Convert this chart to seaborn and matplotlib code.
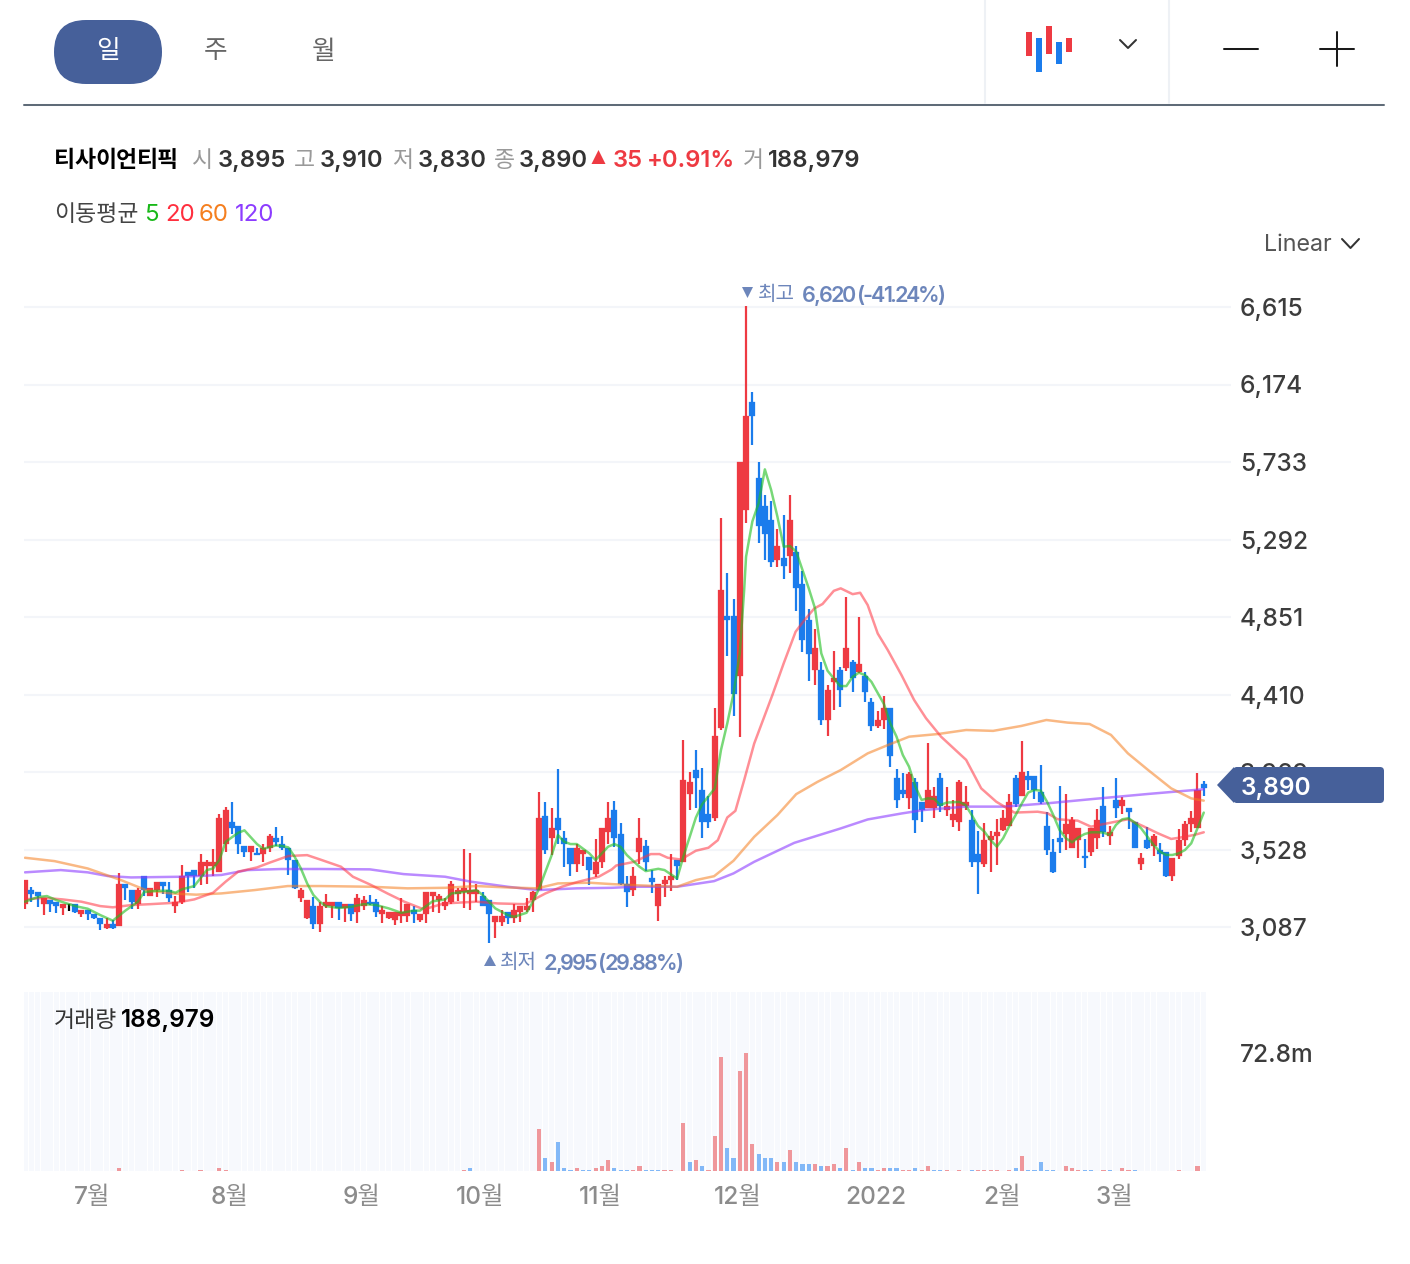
import numpy as np
import pandas as pd
import matplotlib
matplotlib.use('Agg')
import matplotlib.pyplot as plt
import seaborn as sns
from matplotlib.patches import FancyBboxPatch, Polygon, Rectangle

# --- Data ---
opens = [
    3217, 3297, 3286, 3217, 3240, 3229, 3195, 3217, 3217, 3161,
    3183, 3161, 3138, 3081, 3104, 3092, 3331, 3297, 3217, 3377,
    3263, 3297, 3343, 3297, 3206, 3229, 3400, 3411, 3377, 3434,
    3434, 3400, 3559, 3684, 3661, 3548, 3513, 3507, 3502, 3536,
    3593, 3559, 3536, 3468, 3252, 3138, 3206, 3104, 3206, 3206,
    3229, 3195, 3217, 3172, 3206, 3229, 3229, 3161, 3138, 3126,
    3149, 3149, 3183, 3126, 3161, 3263, 3240, 3206, 3229, 3274,
    3286, 3274, 3274, 3263, 3240, 3115, 3115, 3172, 3138, 3172,
    3183, 3240, 3297, 3718, 3593, 3707, 3593, 3536, 3445, 3502,
    3483, 3388, 3457, 3627, 3752, 3615, 3331, 3297, 3513, 3547,
    3365, 3206, 3331, 3354, 3468, 3456, 3843, 3980, 3866, 3729,
    3707, 4219, 4857, 4857, 4515, 5460, 6074, 5642, 5482, 5403,
    5175, 5187, 5198, 5221, 5039, 4834, 4549, 4549, 4265, 4481,
    4549, 4561, 4595, 4538, 4515, 4367, 4231, 4265, 4333, 3935,
    3867, 3821, 3912, 3800, 3764, 3764, 3935, 3753, 3696, 3685,
    3776, 3696, 3503, 3446, 3582, 3605, 3639, 3662, 3935, 3833,
    3946, 3946, 3855, 3662, 3514, 3594, 3616, 3537, 3582, 3491,
    3514, 3594, 3776, 3605, 3810, 3776, 3764, 3685, 3446, 3582,
    3548, 3525, 3514, 3377, 3491, 3582, 3673, 3651, 3901,
]
closes = [
    3354, 3274, 3263, 3252, 3217, 3206, 3217, 3217, 3172, 3183,
    3161, 3138, 3104, 3104, 3081, 3331, 3309, 3229, 3297, 3297,
    3309, 3343, 3320, 3252, 3229, 3377, 3377, 3377, 3457, 3457,
    3457, 3707, 3752, 3650, 3559, 3513, 3548, 3496, 3536, 3604,
    3570, 3536, 3468, 3309, 3297, 3240, 3104, 3206, 3229, 3229,
    3195, 3217, 3161, 3252, 3240, 3217, 3172, 3183, 3172, 3172,
    3172, 3217, 3161, 3161, 3286, 3286, 3263, 3229, 3331, 3297,
    3309, 3297, 3297, 3206, 3161, 3149, 3149, 3138, 3183, 3206,
    3206, 3286, 3707, 3525, 3650, 3639, 3559, 3445, 3536, 3525,
    3411, 3457, 3650, 3707, 3596, 3331, 3285, 3376, 3593, 3456,
    3342, 3331, 3354, 3376, 3433, 3923, 3911, 3934, 3684, 3684,
    4173, 5005, 4834, 4413, 5733, 5995, 5995, 5369, 5323, 5164,
    5255, 5141, 5403, 5016, 4720, 4640, 4675, 4265, 4436, 4504,
    4436, 4675, 4504, 4583, 4424, 4231, 4265, 4333, 4060, 3810,
    3844, 3958, 3696, 3753, 3867, 3833, 3776, 3776, 3730, 3912,
    3799, 3457, 3457, 3582, 3605, 3628, 3707, 3799, 3787, 3969,
    3924, 3867, 3799, 3525, 3400, 3571, 3673, 3696, 3651, 3480,
    3651, 3696, 3628, 3628, 3764, 3810, 3742, 3537, 3480, 3537,
    3605, 3503, 3377, 3480, 3582, 3673, 3707, 3867, 3878,
]
highs = [
    3354, 3312, 3286, 3252, 3240, 3229, 3217, 3217, 3217, 3183,
    3183, 3161, 3138, 3138, 3126, 3396, 3331, 3297, 3309, 3377,
    3309, 3343, 3343, 3343, 3263, 3438, 3400, 3411, 3502, 3468,
    3530, 3730, 3768, 3798, 3661, 3548, 3548, 3536, 3559, 3616,
    3656, 3604, 3536, 3468, 3309, 3240, 3255, 3229, 3274, 3229,
    3229, 3217, 3217, 3274, 3263, 3267, 3246, 3206, 3172, 3172,
    3252, 3217, 3206, 3161, 3286, 3286, 3274, 3252, 3350, 3309,
    3530, 3506, 3331, 3286, 3240, 3149, 3183, 3172, 3217, 3206,
    3252, 3293, 3855, 3800, 3762, 3984, 3635, 3536, 3559, 3525,
    3483, 3585, 3650, 3798, 3803, 3676, 3376, 3430, 3705, 3581,
    3414, 3331, 3376, 3502, 3468, 4150, 3968, 4094, 3989, 3832,
    4333, 5414, 5101, 4953, 5733, 6620, 6131, 5733, 5545, 5511,
    5352, 5431, 5545, 5255, 5113, 4896, 4783, 4595, 4464, 4657,
    4566, 4965, 4606, 4851, 4538, 4390, 4316, 4401, 4333, 3986,
    3962, 3969, 3935, 3800, 4132, 3886, 3965, 3886, 3810, 3924,
    3890, 3753, 3635, 3681, 3635, 3700, 3753, 3844, 3954, 4144,
    3973, 3946, 4011, 3742, 3590, 3890, 3844, 3715, 3651, 3586,
    3651, 3757, 3886, 3662, 3935, 3829, 3764, 3685, 3506, 3654,
    3616, 3563, 3514, 3480, 3643, 3692, 3745, 3965, 3918,
]
lows = [
    3187, 3231, 3202, 3155, 3172, 3168, 3155, 3180, 3168, 3145,
    3126, 3130, 3068, 3075, 3075, 3092, 3240, 3187, 3187, 3263,
    3263, 3255, 3274, 3231, 3168, 3217, 3286, 3309, 3326, 3331,
    3377, 3400, 3513, 3616, 3504, 3485, 3464, 3496, 3457, 3513,
    3548, 3525, 3384, 3301, 3229, 3132, 3075, 3058, 3195, 3138,
    3126, 3115, 3121, 3107, 3183, 3212, 3142, 3107, 3130, 3098,
    3107, 3115, 3107, 3115, 3107, 3172, 3168, 3183, 3217, 3236,
    3193, 3183, 3231, 3206, 2995, 3026, 3092, 3102, 3107, 3115,
    3172, 3174, 3297, 3502, 3496, 3559, 3426, 3377, 3400, 3434,
    3326, 3369, 3422, 3559, 3543, 3325, 3202, 3263, 3445, 3407,
    3282, 3122, 3259, 3293, 3354, 3456, 3752, 3763, 3596, 3650,
    3691, 4208, 4629, 4288, 4168, 5386, 5830, 5272, 5175, 5135,
    5135, 5067, 5101, 4885, 4652, 4487, 4464, 4236, 4174, 4322,
    4339, 4544, 4424, 4532, 4367, 4202, 4219, 4214, 3997, 3766,
    3823, 3757, 3624, 3687, 3762, 3706, 3744, 3719, 3658, 3635,
    3753, 3427, 3273, 3431, 3402, 3442, 3635, 3662, 3772, 3833,
    3867, 3814, 3787, 3497, 3393, 3506, 3525, 3535, 3480, 3421,
    3491, 3531, 3597, 3552, 3707, 3730, 3647, 3537, 3412, 3533,
    3491, 3455, 3374, 3351, 3476, 3548, 3628, 3649, 3833,
]

# volume in millions
volumes = [
    .1, .1, .1, .1, .1, .1, .1, .1, .1, .1,
    .1, .1, .1, .1, .1, 1.6, .1, .1, .1, .1,
    .1, .1, .1, .1, .1, .6, .1, .1, .6, .1,
    .1, 1.6, .6, .1, .1, .1, .1, .1, .1, .1,
    .1, .1, .1, .1, .1, .1, .1, .1, .1, .1,
    .1, .1, .1, .1, .1, .1, .1, .1, .1, .1,
    .1, .1, .1, .1, .1, .1, .1, .1, .1, .1,
    .6, 1.6, .1, .1, .1, .1, .1, .1, .1, .1,
    .1, .1, 26.2, 7.8, 5.3, 17.6, 1.6, .6, 1.6, .6,
    .6, 1.6, 2.9, 6.5, 1.6, .6, .6, .6, 2.9, .6,
    .6, .6, .6, .6, 0, 29.9, 5.3, 6.5, 2.9, .6,
    21.3, 70.3, 13.9, 7.8, 61.8, 72.8, 16.4, 10.2, 7.8, 7.8,
    5.3, 5.3, 12.7, 5.3, 4.1, 4.1, 4.1, 2.9, 2.9, 4.1,
    1.6, 13.9, .6, 5.3, 1.6, 1.6, .6, 1.6, 1.6, 1.6,
    .6, .6, 1.6, .6, 2.9, .6, .6, .6, 0, .6,
    0, .6, .6, .6, .6, .6, 0, .6, 1.6, 9.0,
    .6, .6, 5.3, .6, .6, 0, 2.9, 1.6, .6, .6,
    .6, 0, .6, .6, 0, 1.6, .6, .6, 0, 0,
    .1, .1, .1, .1, .6, .1, .1, 2.9, .19,
]
vol_blue = [71, 83, 85, 86, 87, 89, 90, 94, 95, 96, 99, 100, 101, 106, 108, 112, 113,
            117, 118, 119, 121, 123, 124, 125, 127, 130, 132, 134, 135, 138, 139, 142,
            145, 146, 151, 158, 160, 161, 162, 163, 164, 169, 170, 173, 177, 188]

ma5_x = [0, 2, 3.5, 5, 8, 10, 12, 14, 16, 18, 19, 21, 23, 24, 25, 27, 29, 30, 31, 32, 34, 35, 37, 38,
         40, 41, 42, 43, 44, 45, 46, 47, 48, 50, 52, 54, 56, 58, 60, 62, 63, 65, 67, 68, 70, 72, 73,
         75, 77, 78, 80, 81, 82, 84, 85, 86, 87, 88, 90, 91, 93, 94, 95, 96, 98, 99, 101, 102, 104,
         105, 107, 108, 110, 111, 112, 113, 114, 114.7, 115, 116, 117, 118, 119, 120, 121, 122, 123,
         124, 125, 126, 127, 128, 129, 130, 131, 132, 133, 134, 135, 137, 138, 139, 140, 141, 142,
         143, 144, 145, 146, 147, 149, 150, 151, 152, 153, 154, 155, 156, 157, 158, 159, 160, 161,
         162, 163, 164, 165, 166, 167, 168, 169, 170, 171, 172, 173, 174, 175, 176, 177, 178, 179,
         180, 181, 182, 183, 184, 185, 186, 187, 188]
ma5_y = [3231, 3257, 3263, 3240, 3206, 3191, 3155, 3123, 3180, 3231, 3286, 3293, 3293, 3282, 3301, 3320,
         3411, 3420, 3468, 3572, 3623, 3637, 3559, 3532, 3551, 3548, 3540, 3487, 3420, 3335, 3269, 3231,
         3206, 3195, 3202, 3217, 3212, 3193, 3168, 3180, 3180, 3233, 3244, 3278, 3286, 3297, 3269, 3193,
         3155, 3145, 3168, 3231, 3307, 3496, 3610, 3572, 3559, 3559, 3506, 3468, 3544, 3559, 3543, 3496,
         3430, 3405, 3418, 3411, 3363, 3487, 3710, 3786, 3875, 4094, 4245, 4416, 4644, 5005, 5194, 5394,
         5498, 5691, 5574, 5422, 5251, 5255, 5223, 5119, 5014, 4900, 4644, 4545, 4501, 4458, 4458, 4511,
         4534, 4520, 4482, 4355, 4246, 4170, 4066, 3999, 3886, 3810, 3819, 3816, 3781, 3795, 3799, 3781,
         3724, 3662, 3630, 3582, 3544, 3592, 3662, 3724, 3791, 3852, 3867, 3863, 3800, 3724, 3639, 3592,
         3569, 3597, 3616, 3626, 3626, 3624, 3611, 3668, 3700, 3706, 3681, 3649, 3601, 3554, 3516, 3497,
         3497, 3506, 3525, 3563, 3649, 3738]

ma20_x = [0, 3, 6, 9, 12, 14, 17, 20, 24, 27, 30, 32, 34, 37, 39, 42, 45, 47, 50.4, 52.3, 55.2, 57.8, 60.5,
          63.2, 64.2, 66.8, 72, 75.4, 79.7, 81, 83, 85.6, 88.3, 91.5, 93.6, 94.3, 97.2, 99.8, 101.2, 102.5,
          104.6, 107, 109, 110.5, 112, 113.3, 114.7, 116.3, 119.2, 121, 122.9, 124.3, 125.9, 127.2, 129,
          130.1, 132, 133.2, 134.4, 136, 137.6, 139.8, 141.8, 143.7, 146.1, 150.1, 152.5, 154.9, 157.8,
          161.5, 163.1, 164.7, 167.9, 170, 173.2, 175.9, 178.5, 180.7, 182.8, 184.4, 186.5, 188]
ma20_y = [3244, 3253, 3244, 3231, 3206, 3199, 3212, 3217, 3225, 3244, 3282, 3345, 3402, 3426, 3453, 3491, 3496,
          3472, 3430, 3373, 3326, 3278, 3231, 3193, 3193, 3221, 3231, 3221, 3217, 3240, 3278, 3316, 3345, 3373,
          3415, 3437, 3458, 3502, 3502, 3481, 3471, 3521, 3538, 3581, 3710, 3748, 3923, 4131, 4407, 4587, 4767,
          4833, 4900, 4925, 5000, 5014, 4981, 4989, 4919, 4757, 4663, 4520, 4379, 4275, 4170, 4038, 3876, 3800,
          3738, 3743, 3734, 3700, 3692, 3658, 3681, 3700, 3658, 3620, 3588, 3597, 3611, 3626]

ma60_x = [0, 4.7, 10, 15.3, 19.3, 23.3, 27.3, 31.3, 36.6, 41.9, 47.2, 55.2, 61, 67, 72, 77, 81.7, 85, 90, 93.6,
          97.2, 104, 107, 109.9, 113, 116.3, 120, 123, 126.4, 130.1, 134.4, 137.6, 141, 145.6, 150.1, 154.4,
          158.9, 162.9, 166.3, 169.8, 173.2, 175.9, 179.1, 182.8, 186, 188]
ma60_y = [3481, 3462, 3420, 3354, 3297, 3278, 3271, 3278, 3297, 3320, 3320, 3316, 3307, 3310, 3320, 3312, 3307, 3335,
          3339, 3331, 3325, 3316, 3354, 3376, 3464, 3600, 3724, 3843, 3913, 3980, 4075, 4122, 4170, 4185, 4208, 4203,
          4231, 4265, 4250, 4242, 4180, 4075, 3981, 3876, 3819, 3806]

ma120_x = [0, 5.7, 10, 13.2, 16.9, 24.9, 31.3, 35.5, 40.9, 47.2, 55, 60.4, 67, 71.1, 77, 81.7, 88, 93.6, 97.2, 104,
           109.9, 113, 116.3, 122.7, 130.1, 134.4, 139.8, 143.4, 150.1, 156.2, 163.1, 170.5, 179.1, 188]
ma120_y = [3398, 3411, 3398, 3377, 3369, 3373, 3383, 3411, 3417, 3417, 3415, 3388, 3373, 3345, 3316, 3297, 3307, 3310,
           3316, 3316, 3348, 3392, 3458, 3566, 3648, 3699, 3733, 3753, 3772, 3772, 3791, 3816, 3844, 3871]

price_ticks = [6615, 6174, 5733, 5292, 4851, 4410, 3969, 3528, 3087]
month_pos = [10.7, 32.7, 53.7, 72.6, 91.7, 113.7, 135.7, 155.8, 173.7]
month_labels = ['7월', '8월', '9월', '10월', '11월', '12월', '2022', '2월', '3월']

# --- Styling ---
RED = '#ee3a42'
BLUE = '#1b7cec'
NAVY = '#46609a'
ANNOT = '#6d86bb'
W, H = 1410, 1264

sns.set_theme(style='white')
plt.rcParams['font.family'] = ['Inter', 'Noto Sans CJK KR', 'DejaVu Sans']


def rect(left, top, right, bottom):
    return [left / W, 1 - bottom / H, (right - left) / W, (bottom - top) / H]


fig = plt.figure(figsize=(W / 100, H / 100), dpi=100, facecolor='white')

# --- Price pane ---
PX_STEP = 6.27
X0 = -0.16
ax = fig.add_axes(rect(24, 275, 1231, 985))
ax.set_facecolor('none')

x = np.arange(len(closes))
opens_a, closes_a = np.array(opens), np.array(closes)
colors = np.where(closes_a > opens_a, RED, np.where(closes_a < opens_a, BLUE, 'black'))

ax.vlines(x, lows, highs, colors=colors, linewidth=1.6, zorder=3)
ax.bar(x, np.abs(closes_a - opens_a), bottom=np.minimum(opens_a, closes_a), width=0.96,
       color=colors, edgecolor=colors, linewidth=0.2, zorder=3)

for mx, my, col, al in [(ma120_x, ma120_y, '#8c3cff', 0.6), (ma60_x, ma60_y, '#f57f1f', 0.55),
                        (ma20_x, ma20_y, '#ff3340', 0.55), (ma5_x, ma5_y, '#1fbf1f', 0.6)]:
    sns.lineplot(x=mx, y=my, ax=ax, color=col, alpha=al, linewidth=1.8, sort=False,
                 estimator=None, errorbar=None, zorder=4)

# ylim from the scale 3087 at y=927 and 6615 at y=307
per_px = (6615 - 3087) / (927 - 307)
ax.set_ylim(3087 - (985 - 927) * per_px, 3087 + (927 - 275) * per_px)
ax.set_xlim(X0, X0 + (1231 - 24) / PX_STEP)
ax.set_yticks(price_ticks)
ax.set_yticklabels([f'{v:,}' for v in price_ticks], fontsize=17.6, color='#3c3c3c', fontweight='medium')
ax.yaxis.tick_right()
ax.tick_params(axis='y', length=0, pad=6.5)
ax.set_xticks([])
ax.grid(axis='y', color='#f3f5f9', linewidth=1.5, zorder=0)
ax.set_axisbelow(True)
sns.despine(ax=ax, left=True, bottom=True, right=True, top=True)

# --- Volume pane ---
vax = fig.add_axes(rect(24, 992, 1206, 1171))
vol_max = 72.8
v_top = vol_max * (1171 - 992) / (1171 - 1053)
vax.bar(x, [v_top] * len(x), width=0.88, color='#f7f9fd', linewidth=0, zorder=0)
df_vol = pd.DataFrame({'i': x, 'vol': volumes,
                       'dir': ['down' if i in vol_blue else 'up' for i in x]})
sns.barplot(data=df_vol, x='i', y='vol', hue='dir', palette={'up': '#ef979b', 'down': '#82b8f7'},
            dodge=False, native_scale=True, width=0.66, saturation=1, linewidth=0, legend=False,
            ax=vax, zorder=2)
vax.set_xlim(X0, X0 + (1206 - 24) / PX_STEP)
vax.set_ylim(0, v_top)
vax.set_xlabel('')
vax.set_ylabel('')
vax.set_xticks(month_pos)
vax.set_xticklabels(month_labels, fontsize=17.6, color='#8c8c8c', fontweight='medium')
vax.set_yticks([vol_max])
vax.set_yticklabels(['72.8m'], fontsize=17.6, color='#3c3c3c', fontweight='medium')
vax.yaxis.tick_right()
vax.tick_params(axis='y', length=0, pad=24.5)
vax.tick_params(axis='x', length=0, pad=11)
sns.despine(ax=vax, left=True, bottom=True, right=True, top=True)

# --- Overlay in pixel coordinates for the app chrome ---
ui = fig.add_axes([0, 0, 1, 1], zorder=10)
ui.set_xlim(0, W)
ui.set_ylim(H, 0)
ui.axis('off')
ui.patch.set_alpha(0)
renderer = fig.canvas.get_renderer()


def label(px, py, s, color='#333333', size=17, weight='normal', ha='left'):
    # va='center' sits about 3 px high for these fonts
    return ui.text(px, py + 3, s, color=color, fontsize=size, fontweight=weight, ha=ha, va='center')


def tight_label(px, py, s, color, size, weight, track):
    # letter spacing is tighter than the font's own, so place the glyphs one by one
    for k, ch in enumerate(s):
        probe = label(px, py, s[:k] + '|', color, size, weight)
        bar = label(px, py, '|', color, size, weight)
        adv = probe.get_window_extent(renderer).width - bar.get_window_extent(renderer).width
        probe.remove()
        bar.remove()
        label(px + adv + k * track, py, ch, color, size, weight)


# period tabs
ui.add_patch(FancyBboxPatch((54, 20), 108, 64, boxstyle='round,pad=0,rounding_size=32',
                            fc=NAVY, ec='none'))
label(108, 49, '일', 'white', 18.5, ha='center')
label(216, 49, '주', '#666666', 18.5, ha='center')
label(324, 49, '월', '#666666', 18.5, ha='center')
ui.plot([24, 1384], [104.5, 104.5], color='#5f6b78', lw=1.45)
for sx in [985, 1169]:
    ui.plot([sx, sx], [0, 103], color='#eef1f5', lw=1.45)

# candle icon, chevrons, zoom buttons
for left, top, bottom, col in [(1026, 32, 56, RED), (1036, 38, 72, BLUE), (1046, 26, 54, RED),
                               (1056, 42, 64, BLUE), (1066, 38, 52, RED)]:
    ui.add_patch(Rectangle((left, top), 6, bottom - top, fc=col, ec='none'))
ui.plot([1120, 1128, 1136], [40, 48, 40], color='#333333', lw=1.45)
ui.plot([1342, 1350.5, 1359], [239, 248, 239], color='#333333', lw=1.45)
ui.plot([1224, 1258], [49, 49], color='#1a1a1a', lw=1.45)
ui.plot([1320, 1354], [49, 49], color='#1a1a1a', lw=1.45)
ui.plot([1337, 1337], [32, 66], color='#1a1a1a', lw=1.45)

# quote header
tight_label(54, 158, '티사이언티픽', 'black', 16.5, 'bold', -0.5)
for tx, s in [(192, '시'), (294, '고'), (392, '저'), (494, '종'), (743, '거')]:
    label(tx, 158, s, '#999999', 16.5)
for tx, s in [(218, '3,895'), (320, '3,910'), (418, '3,830'), (519, '3,890'), (768, '188,979')]:
    label(tx, 158, s, '#333333', 17.1, 'semibold')
ui.add_patch(Polygon([[598.5, 150], [591.5, 164], [605.5, 164]], fc=RED, ec='none'))
label(613, 158, '35', RED, 17.1, 'semibold')
label(647, 158, '+0.91%', RED, 17.1, 'semibold')

label(54, 212, '이동평균', '#444444', 16.5)
for tx, s, col in [(144, '5', '#18b818'), (165, '20', '#ff2f3e'), (199, '60', '#f57f1f'), (235, '120', '#8c3cff')]:
    label(tx, 212, s, col, 17.3)
label(1264, 242, 'Linear', '#555555', 16.8)

# high / low annotations
ui.add_patch(Polygon([[742, 287], [753, 287], [747.5, 298]], fc=ANNOT, ec='none'))
label(758, 292, '최고', ANNOT, 14.5)
tight_label(802, 293, '6,620 (-41.24%)', ANNOT, 15.5, 'semibold', -2.15)
ui.add_patch(Polygon([[484, 966], [496, 966], [490, 955]], fc=ANNOT, ec='none'))
label(500, 960, '최저', ANNOT, 14.5)
tight_label(544, 961, '2,995 (29.88%)', ANNOT, 15.5, 'semibold', -2.15)

# volume caption
label(54, 1018, '거래량', '#333333', 16.5)
label(121, 1018, '188,979', 'black', 17.5, 'semibold')

# last price badge
ui.add_patch(FancyBboxPatch((1233, 767), 151, 36, boxstyle='round,pad=0,rounding_size=4', fc=NAVY, ec='none'))
ui.add_patch(Polygon([[1217, 785], [1234, 767], [1234, 803]], fc=NAVY, ec='none'))
label(1241, 785, '3,890', 'white', 17.6, 'semibold')

fig.savefig('out.png', dpi=100)
